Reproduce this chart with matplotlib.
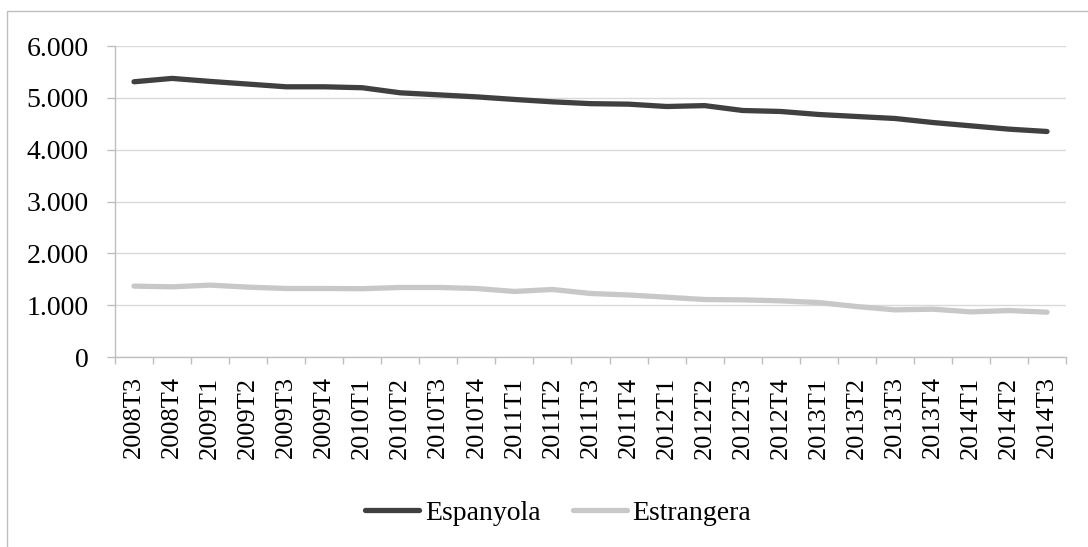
import numpy as np
import matplotlib
matplotlib.use('Agg')
import matplotlib.pyplot as plt
from matplotlib.ticker import FuncFormatter, FixedLocator
from matplotlib.patches import Rectangle

plt.rcParams['font.family'] = ['Liberation Serif', 'DejaVu Serif']

quarters = ['2008T3', '2008T4', '2009T1', '2009T2', '2009T3', '2009T4',
            '2010T1', '2010T2', '2010T3', '2010T4', '2011T1', '2011T2',
            '2011T3', '2011T4', '2012T1', '2012T2', '2012T3', '2012T4',
            '2013T1', '2013T2', '2013T3', '2013T4', '2014T1', '2014T2',
            '2014T3']

espanyola = [5310, 5375, 5317, 5265, 5213, 5213, 5195, 5097, 5058, 5019,
             4969, 4923, 4888, 4878, 4833, 4850, 4756, 4737, 4679, 4640,
             4602, 4524, 4460, 4396, 4351]

estrangera = [1368, 1354, 1387, 1348, 1322, 1322, 1318, 1342, 1342, 1322,
              1265, 1303, 1226, 1197, 1154, 1109, 1103, 1084, 1051, 974,
              910, 923, 871, 897, 865]

fig = plt.figure(figsize=(10.88, 5.47), dpi=100)
ax = fig.add_axes([0.1057, 0.3473, 0.8741, 0.5686])

x = np.arange(len(quarters))
ax.plot(x, espanyola, color='#404040', lw=3.8, solid_capstyle='round',
        solid_joinstyle='round', label='Espanyola', zorder=3)
ax.plot(x, estrangera, color='#c8c8c8', lw=3.8, solid_capstyle='round',
        solid_joinstyle='round', label='Estrangera', zorder=3)

ax.set_xlim(-0.5, len(quarters) - 0.5)
ax.set_ylim(0, 6000)
ax.set_yticks(np.arange(0, 6001, 1000))
ax.yaxis.set_major_formatter(FuncFormatter(lambda v, p: f'{v:,.0f}'.replace(',', '.')))
ax.grid(axis='y', color='#d9d9d9', lw=1)
ax.set_axisbelow(True)

ax.set_xticks(x)
ax.set_xticklabels(quarters, rotation=90, fontsize=19)
ax.xaxis.set_minor_locator(FixedLocator(np.arange(len(quarters) + 1) - 0.5))
ax.tick_params(axis='x', which='major', length=0, pad=14)
ax.tick_params(axis='x', which='minor', length=5, color='#bfbfbf', width=1)
ax.tick_params(axis='y', length=5.8, color='#bfbfbf', width=1, labelsize=20, pad=13)

for s in ['top', 'right']:
    ax.spines[s].set_visible(False)
for s in ['left', 'bottom']:
    ax.spines[s].set_color('#bfbfbf')
    ax.spines[s].set_linewidth(1)

fig.legend(loc='center', bbox_to_anchor=(0.513, 0.062), ncol=2, frameon=False,
           fontsize=20, handlelength=1.95, handletextpad=0.2, columnspacing=1.15)

fig.patches.append(Rectangle((0.0064, -0.1), 1.2, 0.9799 + 0.1,
                             transform=fig.transFigure, fill=False,
                             edgecolor='#bfbfbf', lw=1))

fig.savefig('out.png', dpi=100)
